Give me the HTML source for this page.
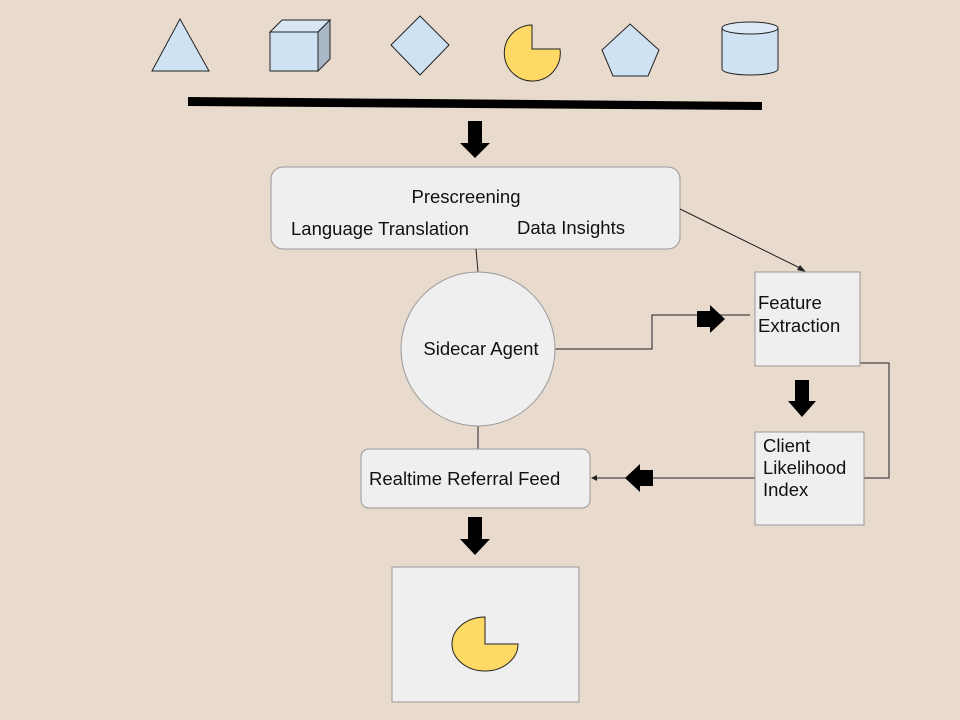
<!DOCTYPE html>
<html><head><meta charset="utf-8"><style>
html,body{margin:0;padding:0;background:#e8dacd;}
svg{display:block;}
text{font-family:"Liberation Sans",sans-serif;font-size:18.5px;fill:#111;}
</style></head><body>
<svg width="960" height="720" viewBox="0 0 960 720" xmlns="http://www.w3.org/2000/svg">
<rect width="960" height="720" fill="#e8dacd"/>
<polygon points="152,71 180,19 209,71" fill="#cfe2f3" stroke="#222" stroke-width="1"/>
<polygon points="270,32 282,20 330,20 318,32" fill="#d8e6f3" stroke="#222" stroke-width="1"/>
<polygon points="318,32 330,20 330,59 318,71" fill="#a9b8c6" stroke="#222" stroke-width="1"/>
<rect x="270" y="32" width="48" height="39" fill="#cfe2f3" stroke="#222" stroke-width="1"/>
<polygon points="420,16 449,45 420,75 391,45" fill="#cfe2f3" stroke="#222" stroke-width="1"/>
<path d="M532,49 L532,25 A28,28 0 1 0 560,49 Z" fill="#ffd966" stroke="#222" stroke-width="1"/>
<polygon points="630,24 659,50 648,76 613,76 602,50" fill="#cfe2f3" stroke="#222" stroke-width="1"/>
<path d="M722,28 L722,69 A28,6 0 0 0 778,69 L778,28" fill="#cfe2f3" stroke="#222" stroke-width="1"/>
<ellipse cx="750" cy="28" rx="28" ry="6" fill="#dde9f5" stroke="#222" stroke-width="1"/>
<polygon points="188,97 762,102 762,110 188,106" fill="#000"/>
<polygon points="468,121 482,121 482,143 490,143 475,158 460,143 468,143" fill="#000"/>
<rect x="271" y="167" width="409" height="82" rx="12" fill="#efefef" stroke="#999"/>
<text x="466" y="203" text-anchor="middle">Prescreening</text>
<text x="291" y="235">Language Translation</text>
<text x="517" y="234">Data Insights</text>
<line x1="476" y1="249" x2="478" y2="272" stroke="#222"/>
<line x1="478" y1="426" x2="478" y2="449" stroke="#222"/>
<line x1="680" y1="209" x2="804" y2="270" stroke="#222"/>
<polygon points="806,272 797,270 800,265" fill="#222"/>
<polyline points="555,349 652,349 652,315 750,315" fill="none" stroke="#222"/>
<polygon points="697,311 710,311 710,305 725,319 710,333 710,327 697,327" fill="#000"/>
<polyline points="860,363 889,363 889,478 864,478" fill="none" stroke="#222"/>
<line x1="755" y1="478" x2="595" y2="478" stroke="#222"/>
<polygon points="591,478 597,475 597,481" fill="#222"/>
<polygon points="653,470 640,470 640,464 625,478 640,492 640,486 653,486" fill="#000"/>
<circle cx="478" cy="349" r="77" fill="#efefef" stroke="#999"/>
<text x="481" y="355" text-anchor="middle">Sidecar Agent</text>
<rect x="755" y="272" width="105" height="94" fill="#efefef" stroke="#999"/>
<text x="758" y="309">Feature</text>
<text x="758" y="332">Extraction</text>
<polygon points="795,380 809,380 809,401 816,401 802,417 788,401 795,401" fill="#000"/>
<rect x="755" y="432" width="109" height="93" fill="#efefef" stroke="#999"/>
<text x="763" y="452">Client</text>
<text x="763" y="474">Likelihood</text>
<text x="763" y="496">Index</text>
<rect x="361" y="449" width="229" height="59" rx="8" fill="#efefef" stroke="#999"/>
<text x="369" y="485">Realtime Referral Feed</text>
<polygon points="468,517 482,517 482,539 490,539 475,555 460,539 468,539" fill="#000"/>
<rect x="392" y="567" width="187" height="135" fill="#efefef" stroke="#999"/>
<path d="M485,644 L485,617 A33,27 0 1 0 518,644 Z" fill="#ffd966" stroke="#222" stroke-width="1"/>
</svg>
</body></html>
